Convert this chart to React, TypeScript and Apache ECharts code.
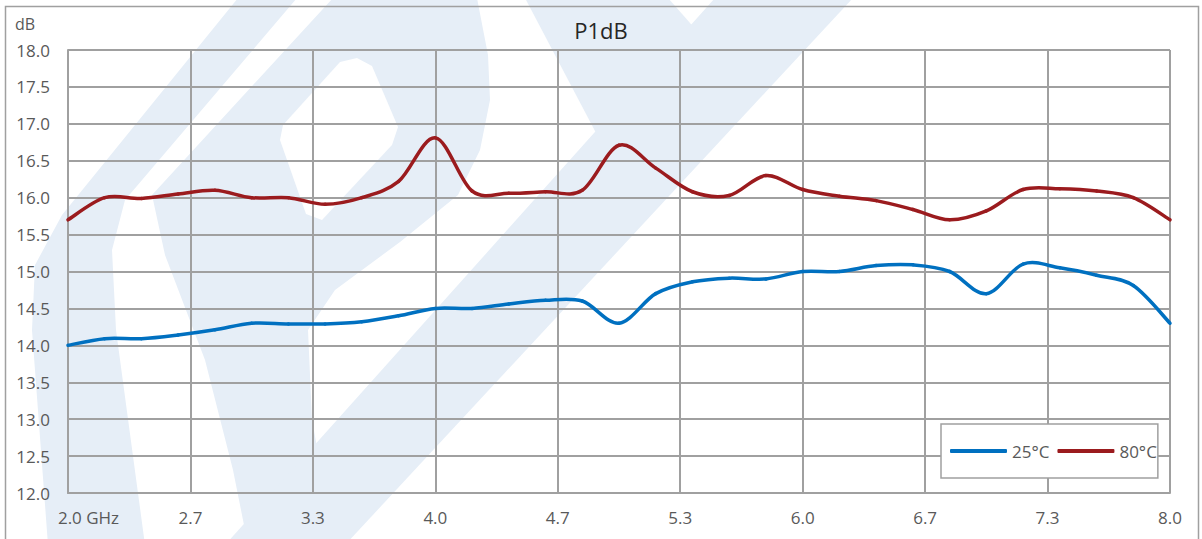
import React, { useEffect, useRef } from "react";
import * as echarts from "echarts";

const freqGHz = [
  2.0, 2.2, 2.4, 2.6, 2.8, 3.0, 3.2, 3.4, 3.6, 3.8, 4.0, 4.2, 4.4, 4.6, 4.8, 5.0,
  5.2, 5.4, 5.6, 5.8, 6.0, 6.2, 6.4, 6.6, 6.8, 7.0, 7.2, 7.4, 7.6, 7.8, 8.0,
];
const p1dB25 = [
  14.0, 14.09, 14.09, 14.14, 14.21, 14.3, 14.29, 14.29, 14.32, 14.4, 14.5, 14.5, 14.56, 14.61, 14.6, 14.3,
  14.7, 14.86, 14.91, 14.9, 15.0, 15.0, 15.08, 15.09, 15.0, 14.7, 15.1, 15.05, 14.95, 14.81, 14.3,
];
const p1dB80 = [
  15.7, 16.0, 15.99, 16.05, 16.1, 16.0, 16.0, 15.91, 16.0, 16.22, 16.81, 16.09, 16.06, 16.08, 16.1, 16.71,
  16.4, 16.08, 16.03, 16.3, 16.11, 16.02, 15.96, 15.84, 15.7, 15.82, 16.11, 16.12, 16.09, 16.0, 15.7,
];
const seriesNames = ["25°C", "80°C"];
const seriesColors = ["#0070C0", "#9B1B1E"];
const xTickLabels = ["2.0 GHz", "2.7", "3.3", "4.0", "4.7", "5.3", "6.0", "6.7", "7.3", "8.0"];
const yMin = 12;
const yMax = 18;
const yStep = 0.5;
const titleText = "P1dB";
const yUnit = "dB";

const FONT = "'Open Sans', 'Liberation Sans', sans-serif";
const GRID_COLOR = "#a0a0a0";
const LABEL_COLOR = "#595959";
const WM = "#e6eef7";

export default function App() {
  const ref = useRef<HTMLDivElement>(null);

  useEffect(() => {
    document.body.style.margin = "0";
    const chart = echarts.init(ref.current as HTMLDivElement, null, { renderer: "svg" });
    // x axis measured in tick steps of 2/3 GHz starting at 2.0 GHz
    const toStep = (f: number) => (f - 2) * 1.5;

    const series = [p1dB25, p1dB80].map((vals, s) => {
      const pts = freqGHz.map((f, i) => [toStep(f), vals[i]]);
      const n = pts.length;
      return {
        name: seriesNames[s],
        type: "custom",
        coordinateSystem: "cartesian2d",
        encode: { x: 0, y: 1 },
        silent: true,
        data: pts,
        itemStyle: { color: seriesColors[s] },
        z: 3 + s,
        renderItem: (params: any, api: any) => {
          const i = params.dataIndex;
          if (i >= n - 1) return null;
          const c = (k: number) => api.coord(pts[Math.max(0, Math.min(n - 1, k))]);
          const p0 = c(i - 1);
          const p1 = c(i);
          const p2 = c(i + 1);
          const p3 = c(i + 2);
          return {
            type: "bezierCurve",
            silent: true,
            shape: {
              x1: p1[0],
              y1: p1[1],
              x2: p2[0],
              y2: p2[1],
              cpx1: p1[0] + (p2[0] - p0[0]) / 6,
              cpy1: p1[1] + (p2[1] - p0[1]) / 6,
              cpx2: p2[0] - (p3[0] - p1[0]) / 6,
              cpy2: p2[1] - (p3[1] - p1[1]) / 6,
            },
            style: { stroke: seriesColors[s], lineWidth: 3.5, fill: "none", lineCap: "round" },
          };
        },
      };
    });

    const wm = (points: number[][], fill: string, z: number) => ({
      type: "polygon",
      silent: true,
      z,
      shape: { points },
      style: { fill },
    });

    const option: any = {
      animation: false,
      backgroundColor: "#ffffff",
      title: {
        text: titleText,
        left: "center",
        top: 19,
        padding: 0,
        textStyle: { fontSize: 22, fontWeight: "normal", color: "#262626", fontFamily: FONT },
      },
      grid: { left: 68, right: 32, top: 50, bottom: 46, containLabel: false },
      legend: {
        left: 941,
        top: 424,
        orient: "horizontal",
        icon: "roundRect",
        itemWidth: 57,
        itemHeight: 4,
        itemGap: 8,
        padding: [17, 1, 17, 9],
        borderColor: GRID_COLOR,
        borderWidth: 1.5,
        backgroundColor: "#ffffff",
        data: seriesNames,
        textStyle: { color: LABEL_COLOR, fontSize: 17, fontFamily: FONT, lineHeight: 20 },
      },
      xAxis: {
        type: "value",
        min: 0,
        max: xTickLabels.length - 1,
        interval: 1,
        axisLine: { show: true, lineStyle: { color: GRID_COLOR, width: 2 } },
        axisTick: { show: false },
        splitLine: { show: true, lineStyle: { color: GRID_COLOR, width: 2 } },
        axisLabel: {
          margin: 16,
          color: LABEL_COLOR,
          fontSize: 17,
          fontFamily: FONT,
          formatter: (v: number) => {
            const i = Math.round(v);
            return i === 0 ? "{g|" + xTickLabels[0] + "}" : xTickLabels[i];
          },
          rich: {
            g: { padding: [0, 0, 0, 41], color: LABEL_COLOR, fontSize: 17, fontFamily: FONT },
          },
        },
      },
      yAxis: {
        type: "value",
        min: yMin,
        max: yMax,
        interval: yStep,
        name: yUnit,
        nameLocation: "end",
        nameGap: 26,
        nameTextStyle: {
          align: "right",
          verticalAlign: "middle",
          padding: [0, 33, 0, 0],
          color: LABEL_COLOR,
          fontSize: 16,
          fontFamily: FONT,
        },
        axisLine: { show: true, lineStyle: { color: GRID_COLOR, width: 2 } },
        axisTick: { show: false },
        splitLine: { show: true, lineStyle: { color: GRID_COLOR, width: 2 } },
        axisLabel: {
          margin: 18,
          color: LABEL_COLOR,
          fontSize: 17,
          fontFamily: FONT,
          formatter: (v: number) => v.toFixed(1),
        },
      },
      graphic: [
        wm([[238, -2], [297, -2], [125, 200], [112, 250], [116, 330], [145, 545], [48, 545], [32, 330], [35, 265], [62, 215]], WM, -10),
        wm([[333, -2], [477, -2], [488, 55], [490, 100], [480, 150], [458, 195], [400, 242], [335, 290], [308, 330], [312, 420], [335, 545], [248, 545], [233, 470], [205, 360], [165, 255], [152, 195]], WM, -10),
        wm([[715, -2], [853, -2], [345, 545], [225, 545]], WM, -10),
        wm([[525, -2], [668, -2], [705, 40], [640, 115], [605, 150]], WM, -10),
        wm([[357, 58], [372, 66], [398, 127], [392, 145], [322, 220], [306, 214], [280, 140], [283, 125], [340, 62]], "#ffffff", -9),
        {
          type: "rect",
          silent: true,
          z: 100,
          shape: { x: 5.5, y: 6.5, width: 1193, height: 545 },
          style: { fill: "none", stroke: GRID_COLOR, lineWidth: 1.5 },
        },
      ],
      series,
    };
    chart.setOption(option);
    return () => chart.dispose();
  }, []);

  return <div ref={ref} style={{ width: 1202, height: 539 }} />;
}
